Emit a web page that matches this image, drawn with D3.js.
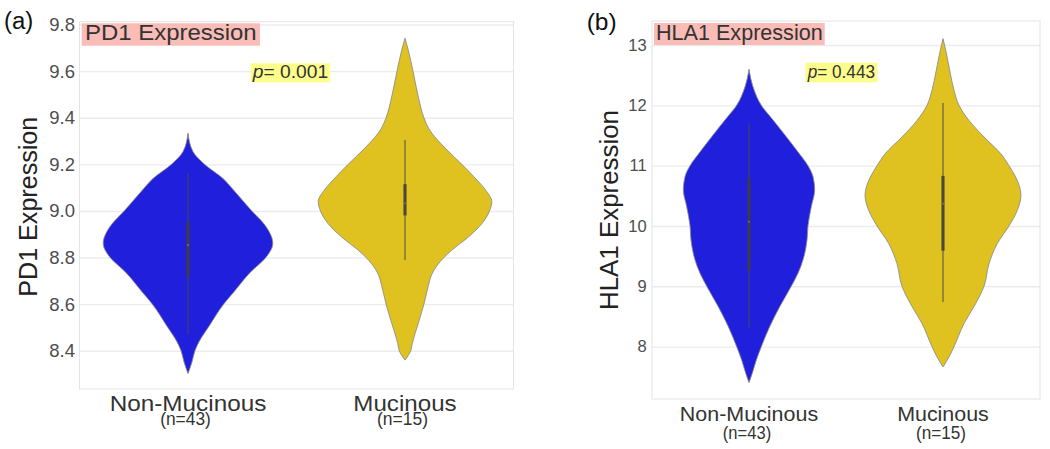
<!DOCTYPE html>
<html>
<head>
<meta charset="utf-8">
<script src="https://cdn.jsdelivr.net/npm/d3@7"></script>
<style>
  html, body { margin: 0; padding: 0; background: #fff; }
  svg { display: block; }
</style>
</head>
<body>
<svg id="chart" width="1050" height="449"></svg>
<script>
// ---------------- DATA ----------------
const categories = ["Non-Mucinous", "Mucinous"];
const counts = [43, 15];
const panelLabels = ["(a)", "(b)"];
const titles = ["PD1 Expression", "HLA1 Expression"];
const pValues = ["0.001", "0.443"];

const pd1Ticks = [8.4, 8.6, 8.8, 9.0, 9.2, 9.4, 9.6, 9.8];
const hla1Ticks = [8, 9, 10, 11, 12, 13];

// [value, relative density (widest violin of the panel = 1)]
const pd1DensityNonMuc = [
  [9.334, 0], [9.255, 0.057], [9.2, 0.19], [9.14, 0.40], [9.083, 0.54], [9.0, 0.735],
  [8.94, 0.885], [8.861, 0.977], [8.8, 0.897], [8.739, 0.724], [8.653, 0.53], [8.6, 0.41],
  [8.51, 0.25], [8.438, 0.126], [8.4, 0.08], [8.352, 0.046], [8.302, 0]
];
const pd1DensityMuc = [
  [9.741, 0], [9.69, 0.038], [9.6, 0.092], [9.49, 0.153], [9.4, 0.218], [9.347, 0.284],
  [9.29, 0.41], [9.233, 0.563], [9.2, 0.655], [9.147, 0.793], [9.09, 0.928], [9.04, 1.0],
  [9.0, 0.974], [8.947, 0.889], [8.89, 0.736], [8.832, 0.54], [8.8, 0.448], [8.746, 0.333],
  [8.66, 0.256], [8.6, 0.218], [8.518, 0.153], [8.432, 0.084], [8.4, 0.066], [8.36, 0]
];
const hla1DensityNonMuc = [
  [12.597, 0], [12.31, 0.051], [12.0, 0.158], [11.757, 0.308], [11.48, 0.478], [11.205, 0.641],
  [11.0, 0.756], [10.817, 0.821], [10.597, 0.842], [10.32, 0.799], [10.0, 0.756], [9.768, 0.744],
  [9.436, 0.692], [9.216, 0.628], [9.0, 0.542], [8.663, 0.394], [8.33, 0.265], [8.0, 0.158],
  [7.779, 0.094], [7.558, 0.042], [7.403, 0]
];
const hla1DensityMuc = [
  [13.106, 0], [12.912, 0.035], [12.58, 0.086], [12.25, 0.141], [12.0, 0.205], [11.75, 0.333],
  [11.475, 0.526], [11.2, 0.74], [11.0, 0.846], [10.81, 0.932], [10.51, 1.0], [10.26, 0.953],
  [10.0, 0.846], [9.708, 0.696], [9.376, 0.59], [9.0, 0.526], [8.714, 0.419], [8.382, 0.269],
  [8.0, 0.141], [7.83, 0.077], [7.663, 0]
];

// [lower whisker, Q1, median, Q3, upper whisker]
const pd1BoxNonMuc = [8.469, 8.714, 8.853, 8.954, 9.163];
const pd1BoxMuc = [8.789, 8.981, 9.033, 9.115, 9.304];
const hla1BoxNonMuc = [8.30, 9.26, 10.07, 10.80, 11.70];
const hla1BoxMuc = [8.74, 9.59, 10.37, 10.83, 12.04];

// ---------------- STYLE / LAYOUT ----------------
const FONT = "'Liberation Sans', Arial, Helvetica, sans-serif";
const NARROW = "'Liberation Sans Narrow', 'Arial Narrow', 'Liberation Sans', Arial, sans-serif";
const fills = ["#1f1fdc", "#dfc220"];

const panels = [
  {
    left: 79.5, right: 513.5, top: 21.7, bottom: 389, yDomain: [8.236, 9.812],
    ticks: pd1Ticks, fmt: d3.format(".1f"), tickFont: 18.5, tickPad: 4.5, widthFrac: 0.4,
    densities: [pd1DensityNonMuc, pd1DensityMuc], boxes: [pd1BoxNonMuc, pd1BoxMuc],
    title: { x: 85, y: 40, size: 22, len: 171.7, pad: 3.3, up: 16.7, down: 5.7 },
    p: { x: 252.7, y: 78.3, size: 18.5, len: 75.6, pad: 2, up: 15, down: 4 },
    label: { x: 4, y: 28.5, size: 23, len: 29.3 },
    ylab: { x: 37, y: 206.7, size: 25, len: 180, text: "PD1 Expression" },
    xlab: { y: 410.5, size: 22, lens: [156.7, 103.3] },
    nlab: { y: 425, size: 18.5, lens: [50.7, 51], dx: -2.5 }
  },
  {
    left: 652, right: 1040, top: 21, bottom: 399, yDomain: [7.132, 13.398],
    ticks: hla1Ticks, fmt: d3.format("d"), tickFont: 16.5, tickPad: 5.3, widthFrac: 0.402,
    densities: [hla1DensityNonMuc, hla1DensityMuc], boxes: [hla1BoxNonMuc, hla1BoxMuc],
    title: { x: 656, y: 40, size: 21.5, len: 166.7, pad: 2, up: 17, down: 5 },
    p: { x: 807.7, y: 78, size: 17.5, len: 67.3, pad: 2.4, up: 15.3, down: 4.3 },
    label: { x: 586.7, y: 30, size: 24, len: 30 },
    ylab: { x: 618, y: 210, size: 25, len: 200, text: "HLA1 Expression" },
    xlab: { y: 421.2, size: 21, lens: [138.3, 91.7] },
    nlab: { y: 438.5, size: 18.5, lens: [48.3, 50], dx: -2 }
  }
];

const svg = d3.select("#chart");
svg.append("rect").attr("width", 1050).attr("height", 449).attr("fill", "#fff");

function addText(g, str, x, y, o) {
  const t = g.append("text")
    .attr("x", x).attr("y", y)
    .attr("font-family", o.family || FONT)
    .attr("font-size", o.size)
    .attr("fill", o.fill || "#333")
    .attr("text-anchor", o.anchor || "start")
    .text(str);
  if (o.len) t.attr("textLength", o.len).attr("lengthAdjust", "spacingAndGlyphs");
  if (o.transform) t.attr("transform", o.transform).attr("x", 0).attr("y", 0);
  return t;
}

panels.forEach((cfg, pi) => {
  const g = svg.append("g");
  const W = cfg.right - cfg.left;
  const x = d3.scaleBand().domain(categories).range([cfg.left, cfg.right]);
  const y = d3.scaleLinear().domain(cfg.yDomain).range([cfg.bottom, cfg.top]);

  // gridlines
  g.append("g")
    .attr("transform", `translate(${cfg.left},0)`)
    .call(d3.axisLeft(y).tickValues(cfg.ticks).tickSize(-W).tickFormat(""))
    .call(a => a.select(".domain").remove())
    .call(a => a.selectAll("line").attr("stroke", "#ececec").attr("stroke-width", 1.4));

  // panel border
  g.append("rect")
    .attr("x", cfg.left).attr("y", cfg.top)
    .attr("width", W).attr("height", cfg.bottom - cfg.top)
    .attr("fill", "none").attr("stroke", "#e4e4e4").attr("stroke-width", 1);

  // y tick labels
  g.append("g")
    .attr("transform", `translate(${cfg.left},0)`)
    .call(d3.axisLeft(y).tickValues(cfg.ticks).tickSize(0).tickPadding(cfg.tickPad).tickFormat(cfg.fmt))
    .call(a => a.select(".domain").remove())
    .attr("font-family", FONT)
    .attr("font-size", cfg.tickFont)
    .call(a => a.selectAll("text").attr("fill", "#4d4d4d"));

  // violins
  const w = d3.scaleLinear().domain([0, 1]).range([0, x.bandwidth() * cfg.widthFrac]);
  categories.forEach((cat, i) => {
    const cx = x(cat) + x.bandwidth() / 2;
    const area = d3.area()
      .curve(d3.curveMonotoneY)
      .y(d => y(d[0]))
      .x0(d => cx - w(d[1]))
      .x1(d => cx + w(d[1]));
    g.append("path")
      .datum(cfg.densities[i])
      .attr("d", area)
      .attr("fill", fills[i])
      .attr("stroke", "#8a8a8a")
      .attr("stroke-opacity", 0.85)
      .attr("stroke-width", 1);

    const b = cfg.boxes[i];
    g.append("line")
      .attr("x1", cx).attr("x2", cx)
      .attr("y1", y(b[0])).attr("y2", y(b[4]))
      .attr("stroke", "#4a4a4a").attr("stroke-opacity", 0.75).attr("stroke-width", 1.3);
    g.append("line")
      .attr("x1", cx).attr("x2", cx)
      .attr("y1", y(b[1])).attr("y2", y(b[3]))
      .attr("stroke", "#3d3d3d").attr("stroke-opacity", 0.85).attr("stroke-width", 3.2);
    g.append("circle")
      .attr("cx", cx).attr("cy", y(b[2])).attr("r", 1.1)
      .attr("fill", "#6e6e6e");

    // x labels
    addText(g, cat, cx, cfg.xlab.y, { size: cfg.xlab.size, anchor: "middle", len: cfg.xlab.lens[i], fill: "#333" });
    addText(g, `(n=${counts[i]})`, cx + cfg.nlab.dx, cfg.nlab.y,
      { size: cfg.nlab.size, anchor: "middle", len: cfg.nlab.lens[i], family: NARROW, fill: "#333" });
  });

  // title box
  const t = cfg.title;
  g.append("rect")
    .attr("x", t.x - t.pad).attr("y", t.y - t.up)
    .attr("width", t.len + 2 * t.pad).attr("height", t.up + t.down)
    .attr("fill", "#f9bcb6");
  addText(g, titles[pi], t.x, t.y, { size: t.size, len: t.len, fill: "#333" });

  // p-value box
  const p = cfg.p;
  g.append("rect")
    .attr("x", p.x - p.pad).attr("y", p.y - p.up)
    .attr("width", p.len + 2 * p.pad).attr("height", p.up + p.down)
    .attr("fill", "#fdfd8c");
  const pt = g.append("text")
    .attr("x", p.x).attr("y", p.y)
    .attr("font-family", FONT).attr("font-size", p.size).attr("fill", "#333")
    .attr("textLength", p.len).attr("lengthAdjust", "spacingAndGlyphs");
  pt.append("tspan").attr("font-style", "italic").text("p");
  pt.append("tspan").text("= " + pValues[pi]);

  // panel label
  addText(g, panelLabels[pi], cfg.label.x, cfg.label.y, { size: cfg.label.size, len: cfg.label.len, fill: "#111" });

  // y axis title
  addText(g, cfg.ylab.text, 0, 0, {
    size: cfg.ylab.size, anchor: "middle", len: cfg.ylab.len, fill: "#222",
    transform: `translate(${cfg.ylab.x},${cfg.ylab.y}) rotate(-90)`
  });
});
</script>
</body>
</html>
